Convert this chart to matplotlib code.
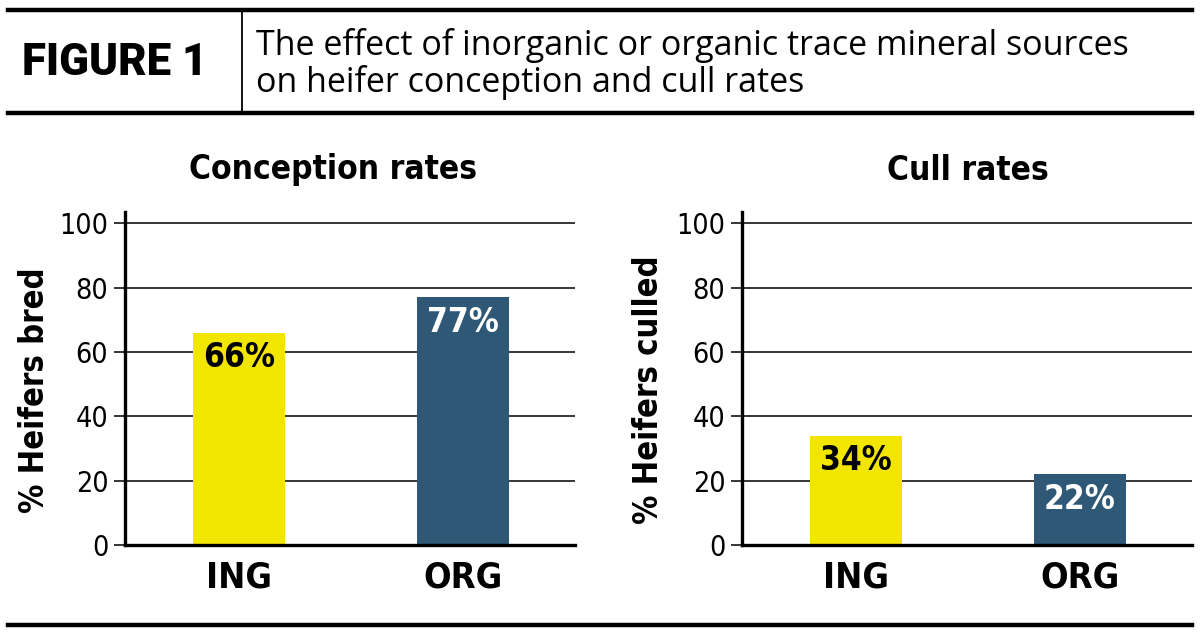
import matplotlib
matplotlib.use("Agg")
import numpy as np
from matplotlib import pyplot as plt
from matplotlib.lines import Line2D

# data
groups = ["ING", "ORG"]
conception = [66, 77]
cull = [34, 22]
bar_colors = ["#f2e600", "#2e5876"]
label_colors = ["black", "white"]
yticks = [0, 20, 40, 60, 80, 100]

narrow = ["DejaVu Sans"]
head = ["Roboto", "DejaVu Sans"]
sub = ["Open Sans", "DejaVu Sans"]

W, H = 1200, 634
fig = plt.figure(figsize=(W / 100, H / 100), dpi=100)

def fx(px):
    return px / W

def fy(py):
    return 1 - py / H

# header rules
for y in (10, 113, 625):
    fig.add_artist(Line2D([fx(8), fx(1192)], [fy(y), fy(y)], color="black", lw=3.2))
fig.add_artist(Line2D([fx(242), fx(242)], [fy(10), fy(113)], color="black", lw=1.3))

fig.text(fx(22), fy(63), "FIGURE 1", family=head, weight="black", fontsize=31.5,
         ha="left", va="center")
fig.text(fx(256), fy(64), "The effect of inorganic or organic trace mineral sources\non heifer conception and cull rates",
         family=sub, fontsize=24.5, ha="left", va="center", linespacing=1.06)


def panel(ax, vals, title, ylabel, cx, lx):
    x = np.arange(len(groups))
    ax.set_axisbelow(True)
    ax.yaxis.grid(True, color="black", lw=1.1)
    bars = ax.bar(x, vals, width=0.41, color=bar_colors, zorder=2)
    for b, v, c in zip(bars, vals, label_colors):
        ax.annotate(f"{v}%", (b.get_x() + b.get_width() / 2, v), xytext=(0, -6),
                    textcoords="offset points", ha="center", va="top",
                    family=narrow, stretch="condensed", weight="bold", fontsize=24,
                    color=c, zorder=3)
    ax.set_xlim(-0.51, 1.5)
    ax.set_ylim(0, 103.5)
    ax.set_yticks(yticks)
    ax.set_xticks(x)
    ax.set_xticklabels(groups, family=narrow, stretch="condensed", weight="bold", fontsize=26)
    ax.tick_params(axis="x", length=0, pad=11)
    ax.tick_params(axis="y", length=8, width=1.1, labelsize=20.5, pad=4)
    for t in ax.get_yticklabels():
        t.set_family(narrow)
        t.set_stretch("condensed")
    for s in ("top", "right"):
        ax.spines[s].set_visible(False)
    for s in ("left", "bottom"):
        ax.spines[s].set_linewidth(2.4)
    fig.text(fx(cx), fy(170), title, family=narrow, stretch="condensed", weight="bold",
             fontsize=24, ha="center", va="center")
    fig.text(fx(lx), fy(390), ylabel, family=narrow, stretch="condensed", weight="bold",
             fontsize=23.5, rotation=90, ha="center", va="center")


ax1 = fig.add_axes([fx(125), fy(545), fx(575 - 125), fy(212) - fy(545)])
ax2 = fig.add_axes([fx(742), fy(545), fx(1192 - 742), fy(212) - fy(545)])
panel(ax1, conception, "Conception rates", "% Heifers bred", 333, 35)
panel(ax2, cull, "Cull rates", "% Heifers culled", 968, 648)

plt.savefig("out.png", dpi=100)
